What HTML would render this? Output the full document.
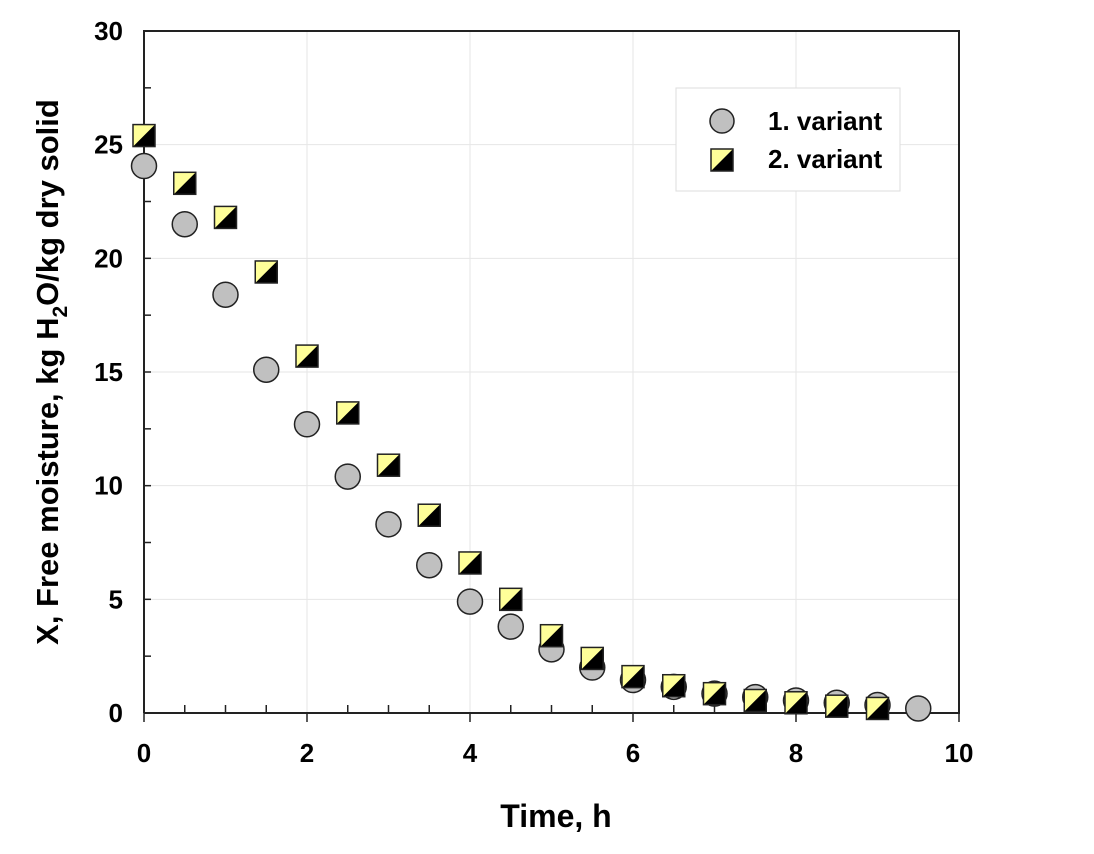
<!DOCTYPE html>
<html><head><meta charset="utf-8"><style>
body{margin:0;background:#fff}
svg{display:block;font-family:"Liberation Sans",Arial,sans-serif;font-weight:bold}
</style></head><body>
<svg id="chart" width="1094" height="854" viewBox="0 0 1094 854">
<g id="grid"></g>
<g id="axes"></g>
<g id="marks"></g>
<text x="556" y="827" font-size="32" text-anchor="middle">Time, h</text>
<text transform="translate(58,372) rotate(-90)" font-size="31" text-anchor="middle">X, Free moisture, kg H<tspan font-size="21" dy="9">2</tspan><tspan dy="-9">O/kg dry solid</tspan></text>
<g>
<rect x="676" y="88" width="224" height="103" fill="#fff" stroke="#ddd"/>
<circle cx="722" cy="121" r="12" fill="#c0c0c0" stroke="#222" stroke-width="1.5"/>
<text x="768" y="130" font-size="26">1. variant</text>
<rect x="711" y="149" width="22" height="22" fill="#000"/>
<polygon points="711,149 733,149 711,171" fill="#ffff99"/>
<rect x="711" y="149" width="22" height="22" fill="none" stroke="#222" stroke-width="1.5"/>
<text x="768" y="168" font-size="26">2. variant</text>
</g>
</svg>
<script>
const times1=[0,0.5,1,1.5,2,2.5,3,3.5,4,4.5,5,5.5,6,6.5,7,7.5,8,8.5,9,9.5];
const variant1=[24.06,21.5,18.4,15.1,12.7,10.4,8.3,6.5,4.9,3.8,2.8,2.0,1.45,1.15,0.85,0.7,0.55,0.45,0.35,0.2];
const times2=[0,0.5,1,1.5,2,2.5,3,3.5,4,4.5,5,5.5,6,6.5,7,7.5,8,8.5,9];
const variant2=[25.4,23.3,21.8,19.4,15.7,13.2,10.9,8.7,6.6,5.0,3.4,2.4,1.6,1.2,0.85,0.55,0.45,0.3,0.2];
const xTicks=[0,2,4,6,8,10];
const yTicks=[0,5,10,15,20,25,30];
const NS="http://www.w3.org/2000/svg";
const X0=144,X1=959,Y0=713,Y1=31;
const sx=v=>X0+(X1-X0)*v/10, sy=v=>Y0-(Y0-Y1)*v/30;
function mk(tag,attrs,parent){const e=document.createElementNS(NS,tag);for(const k in attrs)e.setAttribute(k,attrs[k]);parent.appendChild(e);return e;}
const grid=document.getElementById('grid'),axes=document.getElementById('axes'),marks=document.getElementById('marks');
xTicks.forEach(t=>{
  const g=mk('line',{x1:sx(t),x2:sx(t),y1:Y0,y2:Y1,stroke:'#e6e6e6'},grid);
  
  
  const tx=mk('text',{x:sx(t),y:Y0+49,'font-size':26,'text-anchor':'middle'},axes);
  tx.textContent=t;
  
  
});
yTicks.forEach(t=>{
  const g=mk('line',{x1:X0,x2:X1,y1:sy(t),y2:sy(t),stroke:'#e6e6e6'},grid);
  
  
  const tx=mk('text',{x:X0-21,y:sy(t)+9,'font-size':26,'text-anchor':'end'},axes);
  tx.textContent=t;
  
  
});
for(let i=0;i<=20;i++){const v=i*0.5;const big=i%4==0;
  const l=mk('line',{x1:sx(v),x2:sx(v),y1:Y0+(big?9:0),y2:Y0-(big?0:8),stroke:'#222','stroke-width':1.5},axes);
  
  }
for(let i=0;i<=12;i++){const v=i*2.5;
  const l=mk('line',{x1:X0,x2:X0+7,y1:sy(v),y2:sy(v),stroke:'#222','stroke-width':1.5},axes);
  
  }
const fr=mk('polyline',{points:`${X0},${Y0} ${X0},${Y1} ${X1},${Y1} ${X1},${Y0} ${X0},${Y0}`,fill:'none',stroke:'#222','stroke-width':2},axes);


times1.forEach((t,i)=>{
  const c=mk('circle',{cx:sx(t),cy:sy(variant1[i]),r:12.5,fill:'#c0c0c0',stroke:'#222','stroke-width':1.5},marks);
  
  
});
times2.forEach((t,i)=>{
  const x=sx(t)-11,y=sy(variant2[i])-11;
  const g=mk('g',{},marks);
  
  
  mk('rect',{x:x,y:y,width:22,height:22,fill:'#000'},g);
  mk('polygon',{points:`${x},${y} ${x+22},${y} ${x},${y+22}`,fill:'#ffff99'},g);
  mk('rect',{x:x,y:y,width:22,height:22,fill:'none',stroke:'#222','stroke-width':1.5},g);
});
</script>
</body></html>
